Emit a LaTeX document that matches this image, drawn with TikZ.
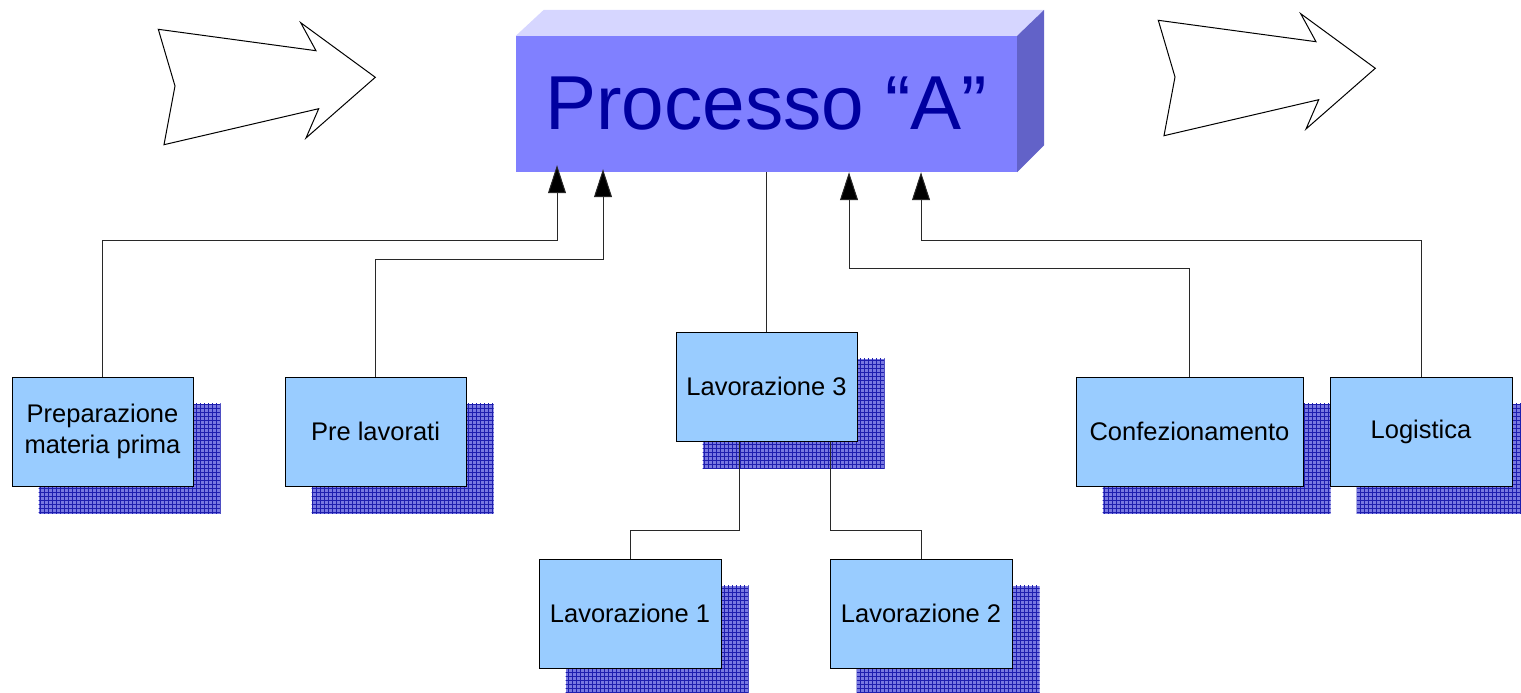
\documentclass[tikz,border=0pt]{standalone}
\usepackage{fontspec}
\setmainfont{Liberation Sans}
\usetikzlibrary{arrows.meta,calc}
\pgfdeclarelayer{background}
\pgfsetlayers{background,main}
\definecolor{boxblue}{RGB}{153,204,255}
\definecolor{frontface}{RGB}{128,128,255}
\definecolor{topface}{RGB}{214,214,255}
\definecolor{sideface}{RGB}{98,98,200}
\definecolor{titleblue}{RGB}{0,0,160}
\definecolor{shadowfill}{RGB}{120,120,225}
\definecolor{shadowgrid}{RGB}{30,30,175}
\definecolor{linegray}{RGB}{40,40,40}
\tikzset{
  stepbox/.style={draw=black, line width=1pt, fill=boxblue, minimum height=109pt,
    inner sep=2pt, align=center, font=\fontsize{25.5}{31}\selectfont},
  conn/.style={draw=linegray, line width=1pt},
  connarrow/.style={conn, -{Triangle[length=28pt,width=18pt,fill=black]}},
  bigarrow/.style={draw=black, line width=1pt, fill=white, line join=miter},
}
\begin{document}
\begin{tikzpicture}[x=1pt,y=-1pt]
\useasboundingbox (0,0) rectangle (1521,693);

% big arrows
\draw[bigarrow] (158.3,29.3) -- (316,50.7) -- (300.7,22.7) -- (375.3,77.3) -- (306,138) -- (318.7,108.7) -- (164,144.7) -- (175,86) -- cycle;
\draw[bigarrow] (1158.3,20.3) -- (1316,41.7) -- (1300.7,13.7) -- (1375.3,68.3) -- (1306,129) -- (1318.7,99.7) -- (1164,135.7) -- (1175,77) -- cycle;

% 3D process box
\node[fill=frontface, minimum width=501pt, minimum height=136pt, inner sep=0pt,
  text=titleblue, font=\fontsize{76.5}{80}\selectfont] (proc) at (766.5,104) {Processo “A”};
\fill[topface] (proc.north west) -- ++(28,-26) -- ($(proc.north east)+(27,-26)$) -- (proc.north east) -- cycle;
\fill[sideface] (proc.north east) -- ++(27,-26) -- ($(proc.south east)+(27,-27)$) -- (proc.south east) -- cycle;

% boxes
\node[stepbox, minimum width=181pt] (prep) at (102.5,431.5) {Preparazione\\materia prima};
\node[stepbox, minimum width=181pt] (pre) at (375.5,431.5) {Pre lavorati};
\node[stepbox, minimum width=181pt] (lav3) at (766.5,386.5) {Lavorazione 3};
\node[stepbox, minimum width=227pt] (conf) at (1189.5,431.5) {Confezionamento};
\node[stepbox, minimum width=182pt] (log) at (1421,431.5) {Logistica};
\node[stepbox, minimum width=182pt] (lav1) at (630,613.5) {Lavorazione 1};
\node[stepbox, minimum width=182pt] (lav2) at (921,613.5) {Lavorazione 2};

% shadows
\begin{pgfonlayer}{background}
\foreach \n in {prep,pre,lav3,conf,log,lav1,lav2}{
  \begin{scope}
    \clip ($(\n.north west)+(27,27)$) rectangle ($(\n.south east)+(27,27)$);
    \fill[shadowfill] ($(\n.north west)+(27,27)$) rectangle ($(\n.south east)+(27,27)$);
    \draw[shadowgrid, line width=0.7pt, step=4pt] ($(\n.north west)+(20,20)$) grid ($(\n.south east)+(34,34)$);
  \end{scope}
}
\end{pgfonlayer}

% connectors
\coordinate (a1) at (557,240);
\coordinate (a2) at (603,259);
\coordinate (a3) at (849,268);
\coordinate (a4) at (921,240);
\draw[connarrow, shorten >=-7pt] (prep.north) |- (a1) -- (a1 |- proc.south);
\draw[connarrow, shorten >=-3pt] (pre.north) |- (a2) -- (a2 |- proc.south);
\draw[connarrow] (conf.north) |- (a3) -- (a3 |- proc.south);
\draw[connarrow] (log.north) |- (a4) -- (a4 |- proc.south);
\draw[conn] (lav3.north) -- (proc.south);

\coordinate (l3a) at ($(lav3.south)+(-27.5,0)$);
\coordinate (l3b) at ($(lav3.south)+(63.5,0)$);
\coordinate (mid) at (0,530);
\draw[conn] (l3a) -- (l3a |- mid) -| (lav1.north);
\draw[conn] (l3b) -- (l3b |- mid) -| (lav2.north);
\end{tikzpicture}
\end{document}
